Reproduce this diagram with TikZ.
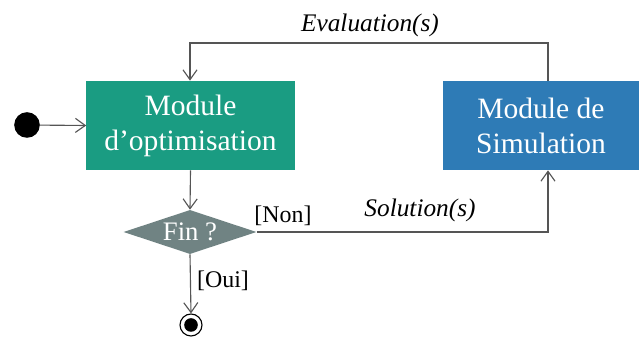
\documentclass[tikz,border=0pt]{standalone}
\usepackage{fontspec}
\setmainfont{Liberation Serif}
\usetikzlibrary{shapes.geometric,arrows.meta}
\definecolor{optgreen}{HTML}{1A9C82}
\definecolor{simblue}{HTML}{2E7BB6}
\definecolor{fingray}{HTML}{708383}
\definecolor{linegray}{HTML}{555555}
\tikzset{
  module/.style={draw=none,fill=#1,text=white,minimum width=5.2cm,minimum height=2.23cm,
    align=center,font=\fontsize{21}{25}\selectfont},
  flow/.style={draw=linegray,line width=0.8pt,-{Straight Barb[length=7pt,width=10pt]}},
  lbl/.style={font=\fontsize{17}{20}\selectfont},
}
\begin{document}
\begin{tikzpicture}[x=0.025cm,y=-0.025cm]
\useasboundingbox (0,0) rectangle (640,346);
% modules
\node[module=optgreen] (opt) at (190.5,125.5) {Module\\d'optimisation};
\node[module=simblue,minimum width=4.9cm] (sim) at (541,125.5) {Module de\\Simulation};
\node[diamond,fill=fingray,text=white,shape aspect=2.08,minimum width=3.325cm,inner sep=0pt,
  font=\fontsize{19}{22}\selectfont] (fin) at (190,232) {Fin ?};
% start and end
\node[circle,fill=black,minimum size=0.64cm,inner sep=0pt] (start) at (27,125) {};
\node[circle,draw=black,line width=0.8pt,fill=white,minimum size=0.55cm,inner sep=0pt] (stop) at (191,325) {};
\node[circle,fill=black,minimum size=0.34cm,inner sep=0pt] (stopin) at (stop) {};
\coordinate (c1) at (548,232);
\coordinate (c2) at (548,43);
\coordinate (c3) at (190,43);
% connectors
\draw[flow] (start) -- (opt.west);
\draw[flow] (opt.south) -- (fin.north);
\draw[flow] (fin.south) -- (stop.north);
\draw[flow] (fin.east) -- (c1) -- (sim.south -| c1);
\draw[flow] (sim.north -| c2) -- (c2) -- (c3) -- (opt.north -| c3);
% labels
\node[lbl,font=\fontsize{18}{21}\selectfont\itshape] (eval) at (370,25) {Evaluation(s)};
\node[lbl,font=\fontsize{18}{21}\selectfont\itshape] (sol) at (420,210) {Solution(s)};
\node[lbl] (non) at (283,216) {[Non]};
\node[lbl] (oui) at (223,281) {[Oui]};
\end{tikzpicture}
\end{document}
